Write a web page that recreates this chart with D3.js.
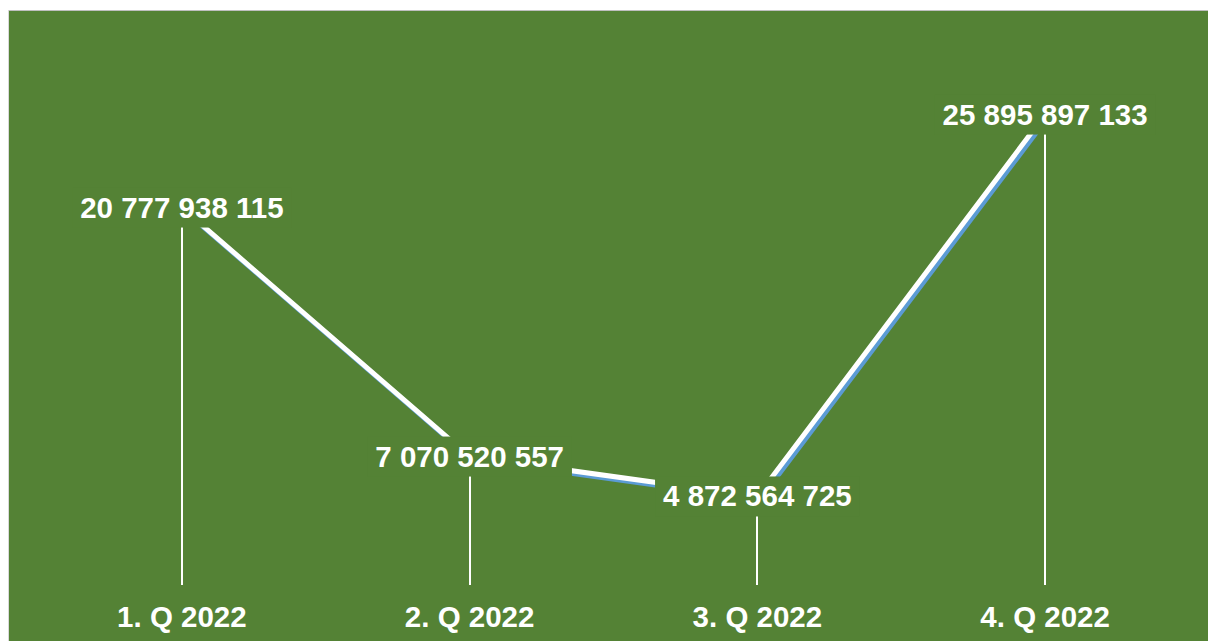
<!DOCTYPE html>
<html>
<head>
<meta charset="utf-8">
<script src="https://cdn.jsdelivr.net/npm/d3@7"></script>
<style>
  html, body { margin: 0; padding: 0; background: #fff; }
  svg { display: block; }
  text { font-family: "Liberation Sans", Arial, sans-serif; font-weight: bold; fill: #fff; }
</style>
</head>
<body>
<div id="container"></div>
<script>
// chart data
var quarters = ["1. Q 2022", "2. Q 2022", "3. Q 2022", "4. Q 2022"];
var values = [20777938115, 7070520557, 4872564725, 25895897133];
var valueLabels = ["20 777 938 115", "7 070 520 557", "4 872 564 725", "25 895 897 133"];

var W = 1208, H = 641;
var bg = "#548235";

var svg = d3.select("#container").append("svg")
	.attr("width", W)
	.attr("height", H);

// chart area with thin grey frame on top / left
svg.append("rect")
	.attr("x", 9).attr("y", 11)
	.attr("width", W - 9).attr("height", H - 11)
	.attr("fill", bg);
svg.append("line")
	.attr("x1", 8).attr("x2", W).attr("y1", 10.5).attr("y2", 10.5)
	.attr("stroke", "#bfbfbf");
svg.append("line")
	.attr("x1", 8.5).attr("x2", 8.5).attr("y1", 10).attr("y2", H)
	.attr("stroke", "#d9d9d9");

var x = d3.scaleBand().domain(quarters).range([38, 1189]);
var y = d3.scaleLinear().domain([0, 30000000000]).range([585, 40]);

var data = quarters.map(function(q, i) {
	return {q: q, v: values[i], label: valueLabels[i]};
});
var cx = function(d) { return x(d.q) + x.bandwidth() / 2; };

// drop lines
svg.append("g").selectAll("line")
	.data(data)
	.enter().append("line")
	.attr("x1", function(d) { return Math.round(cx(d)); })
	.attr("x2", function(d) { return Math.round(cx(d)); })
	.attr("y1", function(d) { return y(d.v); })
	.attr("y2", y(0))
	.attr("stroke", "#fff")
	.attr("stroke-width", 2);

var line = d3.line()
	.x(cx)
	.y(function(d) { return y(d.v); });

// blue shadow, then white line
svg.append("path")
	.datum(data)
	.attr("d", line)
	.attr("transform", "translate(2.5,3)")
	.attr("fill", "none")
	.attr("stroke", "#5b9bd5")
	.attr("stroke-width", 5);
svg.append("path")
	.datum(data)
	.attr("d", line)
	.attr("fill", "none")
	.attr("stroke", "#fff")
	.attr("stroke-width", 5);

// value labels on green boxes
var lab = svg.append("g").selectAll("g")
	.data(data)
	.enter().append("g")
	.attr("transform", function(d) { return "translate(" + cx(d) + "," + y(d.v) + ")"; });

var rects = lab.append("rect").attr("fill", bg);
var texts = lab.append("text")
	.attr("text-anchor", "middle")
	.attr("y", 10)
	.style("font-size", "29.5px")
	.text(function(d) { return d.label; });

texts.each(function(d, i) {
	var bb = this.getBBox();
	d3.select(rects.nodes()[i])
		.attr("x", bb.x - 8)
		.attr("y", -20)
		.attr("width", bb.width + 16)
		.attr("height", 40);
});

// category labels
svg.append("g").selectAll("text")
	.data(quarters)
	.enter().append("text")
	.attr("x", function(d) { return x(d) + x.bandwidth() / 2; })
	.attr("y", 627)
	.attr("text-anchor", "middle")
	.style("font-size", "29.5px")
	.text(function(d) { return d; });
</script>
</body>
</html>
